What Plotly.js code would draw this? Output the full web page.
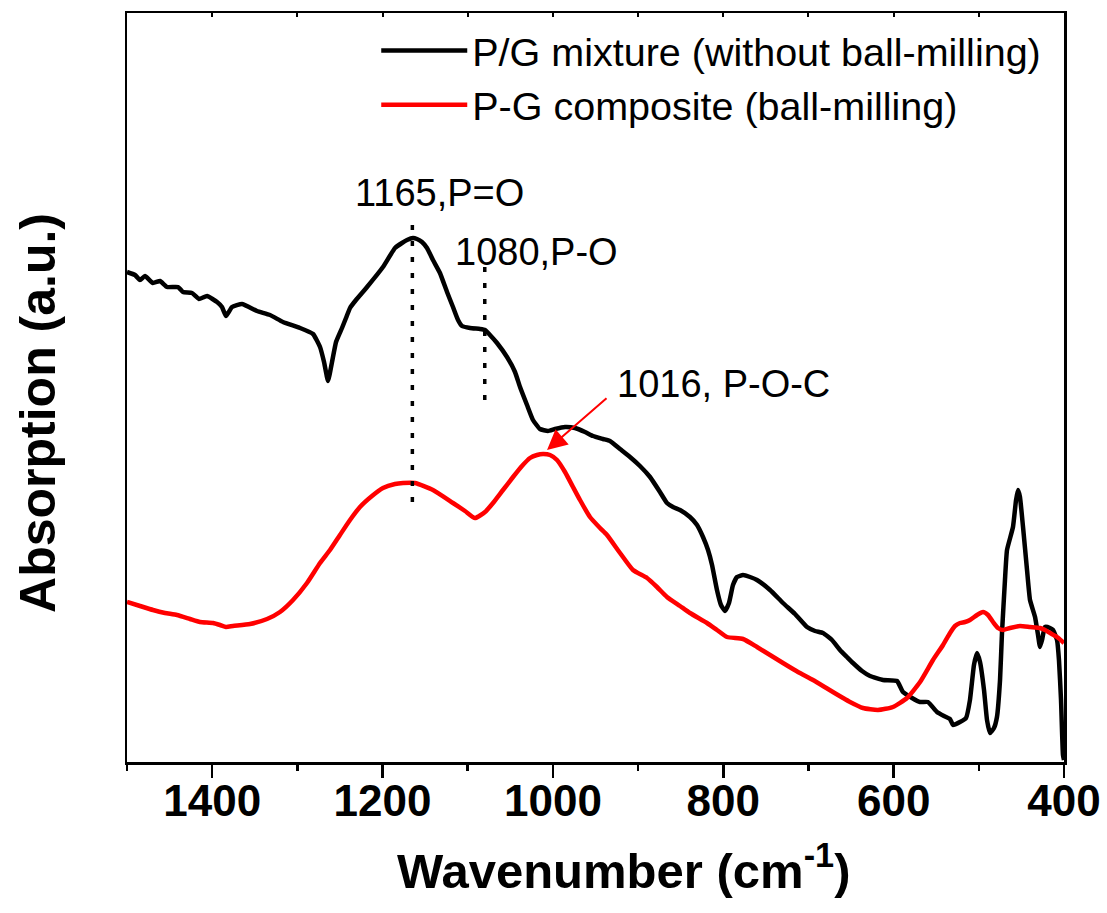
<!DOCTYPE html>
<html>
<head>
<meta charset="utf-8">
<script src="https://cdn.plot.ly/plotly-3.0.1.min.js"></script>
<style>html,body{margin:0;padding:0;background:#fff;}#chart{width:1107px;height:913px;}</style>
</head>
<body>
<div id="chart"></div>
<script>
// Wavenumber (cm^-1) and absorption (arbitrary units)
const mixtureWn = [1500.0,1490.6,1484.7,1478.9,1469.5,1461.3,1453.0,1440.1,1434.3,1423.7,1415.5,1406.1,1394.3,1388.5,1383.8,1376.7,1365.0,1347.4,1332.1,1316.9,1296.9,1281.6,1273.4,1268.7,1264.0,1259.3,1254.6,1247.6,1242.9,1238.2,1231.2,1218.2,1199.5,1185.4,1177.2,1171.3,1164.2,1159.6,1153.7,1147.8,1140.8,1132.6,1124.3,1117.3,1111.4,1106.7,1097.3,1085.6,1079.7,1073.9,1065.6,1053.9,1044.5,1038.6,1030.4,1023.4,1015.2,1005.8,997.5,985.8,974.1,962.3,952.9,941.2,933.0,921.2,909.5,897.8,886.0,874.3,866.1,859.0,850.8,839.1,830.8,823.8,817.9,813.2,807.4,802.7,798.0,793.3,788.6,783.9,776.8,768.6,760.4,745.1,729.9,715.8,701.7,692.3,682.9,672.4,663.0,654.8,647.7,637.1,627.7,612.5,596.0,589.0,578.4,569.0,559.7,549.1,540.9,533.8,530.3,522.1,515.0,510.4,505.7,502.1,498.6,493.9,490.4,486.9,482.2,478.7,475.1,472.8,469.3,466.9,459.9,456.3,454.0,451.7,448.1,443.4,439.9,434.0,430.5,428.2,425.8,422.3,416.4,412.9,408.2,405.9,403.5,401.2,400.0];
const mixtureAbs = [490,487,482,486,479,481,475,475,470,469,463,466,460,455,446,455,458,451,447,440,434,428,415,400,381,400,420,434,444,454,462,475,495,514,519,522,524,523,520,514,502,489,470,455,442,436,434,433,432,427,419,405,390,375,357,342,333,331,333,335,334,330,326,323,321,313,305,296,285,270,259,255,252,245,237,225,212,197,172,157,151,159,177,185,187,185,182,172,159,148,135,131,129,122,112,105,99,91,86,82,81,70,64,60,60,50,46,43,37,40,44,62,97,109,100,72,42,29,34,45,82,129,182,212,235,262,272,265,235,192,162,145,127,115,122,135,134,132,122,102,62,7,2];

const compositeWn = [1500.0,1484.7,1469.5,1455.4,1441.3,1426.0,1414.3,1399.0,1390.8,1383.8,1375.6,1355.6,1335.6,1320.4,1305.1,1288.7,1273.4,1261.7,1250.0,1238.2,1226.5,1212.4,1199.5,1185.4,1176.0,1161.9,1140.8,1117.3,1103.2,1091.5,1079.7,1070.3,1058.6,1046.8,1036.3,1026.9,1018.7,1011.6,1003.4,995.2,985.8,976.4,968.2,956.5,944.7,936.5,921.2,906.0,889.5,877.8,866.1,850.8,839.1,819.1,807.4,795.6,776.8,760.4,745.1,729.9,712.3,694.7,677.1,659.4,651.2,636.0,618.4,600.8,584.3,569.0,553.8,542.0,533.8,528.0,522.1,516.2,510.4,502.1,495.1,489.2,483.3,477.5,471.6,463.4,451.7,439.9,428.2,422.3,416.4,408.2,400.0];
const compositeAbs = [160,156,152,149,147,143,140,139,137,135,136,138,143,150,162,179,199,212,227,242,255,266,274,278,279,279,272,259,251,244,250,259,272,285,296,304,307,308,307,302,290,275,262,245,234,227,209,192,184,175,165,156,149,139,132,125,123,115,107,99,90,82,73,64,60,54,52,55,64,80,102,117,129,136,139,140,142,147,150,147,140,134,132,134,136,135,134,132,129,125,119];

const seriesNames = ['P/G mixture (without ball-milling)', 'P-G composite (ball-milling)'];

// Marker lines for band assignments
const bandPO_dbl = {wn: 1165, top: 537, bottom: 254};
const bandPO_sgl = {wn: 1080, top: 495, bottom: 360};

const labels = [
  {text: '1165,P=O', wn: 1132.6, y: 569},
  {text: '1080,P-O', wn: 1018.7, y: 510},
  {text: '1016, P-O-C', wn: 800.3, y: 378}
];
const arrowTip = {wn: 1006.9, y: 312};
const arrowTail = {wn: 935.3, y: 365};

const xTicks = [1400, 1200, 1000, 800, 600, 400];

const FONT = 'Arial, "Liberation Sans", sans-serif';

const traces = [
  {x: mixtureWn, y: mixtureAbs, name: seriesNames[0], mode: 'lines',
   line: {color: '#000000', width: 4.5, shape: 'spline', smoothing: 0.4}},
  {x: compositeWn, y: compositeAbs, name: seriesNames[1], mode: 'lines',
   line: {color: '#ff0000', width: 4.5, shape: 'spline', smoothing: 0.5}},
  {x: [bandPO_dbl.wn, bandPO_dbl.wn], y: [bandPO_dbl.top, bandPO_dbl.bottom], mode: 'lines', showlegend: false,
   line: {color: '#000000', width: 3.5, dash: '5px,11px'}},
  {x: [bandPO_sgl.wn, bandPO_sgl.wn], y: [bandPO_sgl.top, bandPO_sgl.bottom], mode: 'lines', showlegend: false,
   line: {color: '#000000', width: 3.5, dash: '5px,11px'}},
  {x: [], y: [], xaxis: 'x2', yaxis: 'y', mode: 'lines', showlegend: false, hoverinfo: 'skip'}
];

const annotations = labels.map(l => ({
  x: l.wn, y: l.y, xref: 'x', yref: 'y', text: l.text, showarrow: false,
  font: {family: FONT, size: 38, color: '#000'}
}));
annotations.push({
  x: arrowTip.wn, y: arrowTip.y, ax: arrowTail.wn, ay: arrowTail.y,
  xref: 'x', yref: 'y', axref: 'x', ayref: 'y', text: '', showarrow: true,
  arrowcolor: '#ff0000', arrowwidth: 2, arrowhead: 2, arrowsize: 2
});
annotations.push({
  x: -0.095, y: 0.466, xref: 'paper', yref: 'paper', xanchor: 'center', yanchor: 'middle',
  text: 'Absorption (a.u.)', textangle: -90,
  showarrow: false, font: {family: FONT, size: 50, color: '#000', weight: 'bold'}
});
annotations.push({
  x: 0.530, y: -0.14, xref: 'paper', yref: 'paper', xanchor: 'center', yanchor: 'middle',
  text: 'Wavenumber (cm<sup>-1</sup>)',
  showarrow: false, font: {family: FONT, size: 49, color: '#000', weight: 'bold'}
});

const layout = {
  width: 1107, height: 913,
  margin: {l: 127, r: 43, t: 13, b: 151},
  paper_bgcolor: '#ffffff', plot_bgcolor: '#ffffff',
  showlegend: true,
  legend: {x: 0.266, y: 0.993, xanchor: 'left', yanchor: 'top', bgcolor: 'rgba(0,0,0,0)',
           font: {family: FONT, size: 39.5, color: '#000'}, itemwidth: 86, tracegroupgap: 0},
  xaxis: {
    range: [1500, 400], autorange: false,
    tickvals: xTicks, ticktext: xTicks.map(String),
    ticks: 'outside', ticklen: 13, tickwidth: 2.5, tickcolor: '#000',
    ticklabelstandoff: -14,
    minor: {dtick: 100, tick0: 0, ticks: 'outside', ticklen: 6, tickwidth: 2.5, tickcolor: '#000'},
    showline: true, linewidth: 2.5, linecolor: '#000', mirror: true,
    showgrid: false, zeroline: false,
    tickfont: {family: FONT, size: 44, color: '#000', weight: 'bold'}
  },
  xaxis2: {
    overlaying: 'x', side: 'top', anchor: 'y', range: [1500, 400], autorange: false,
    tick0: 0, dtick: 100, ticks: 'inside', ticklen: 4, tickwidth: 2, tickcolor: '#000',
    showticklabels: false, showline: false, showgrid: false, zeroline: false
  },
  yaxis: {
    range: [0, 749], autorange: false,
    showticklabels: false, ticks: '',
    showline: true, linewidth: 2.5, linecolor: '#000', mirror: true,
    showgrid: false, zeroline: false
  },
  annotations: annotations
};

Plotly.newPlot('chart', traces, layout, {displayModeBar: false, staticPlot: true});
</script>
</body>
</html>
